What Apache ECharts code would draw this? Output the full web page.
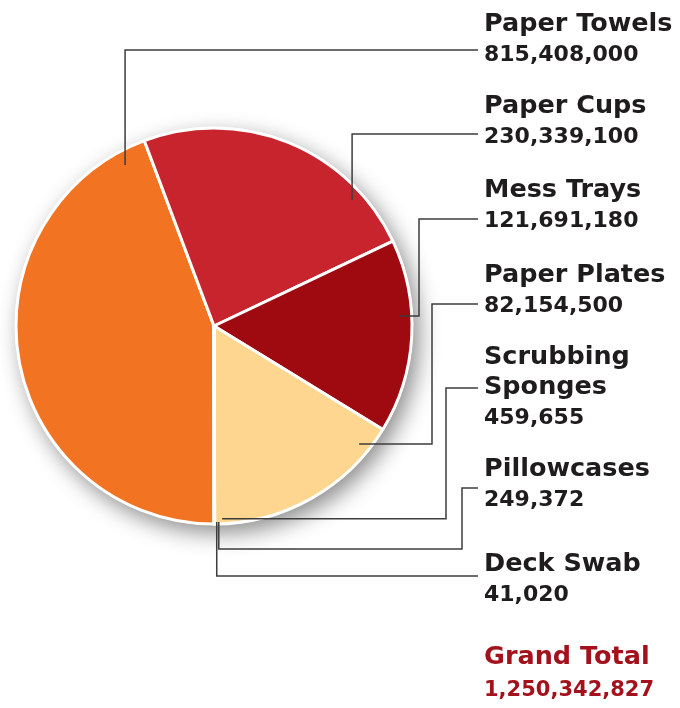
<!DOCTYPE html>
<html>
<head>
<meta charset="utf-8">
<script src="https://cdn.jsdelivr.net/npm/echarts@6/dist/echarts.min.js"></script>
<style>html,body{margin:0;background:#fff}#chart{width:680px;height:708px}</style>
</head>
<body>
<div id="chart"></div>
<script>
const categories = ['Paper Towels', 'Paper Cups', 'Mess Trays', 'Paper Plates', 'Scrubbing\nSponges', 'Pillowcases', 'Deck Swab'];
const amounts = [815408000, 230339100, 121691180, 82154500, 459655, 249372, 41020];
// slice sizes in degrees as drawn in the picture (it is not to scale)
const sliceDegrees = [159.4, 85.2, 56.9, 58.3, 0.1, 0.05, 0.05];
const grandTotal = 1250342827;
const colors = ['#F27322', '#C8242E', '#9F0A10', '#FED68F', '#FED68F', '#FED68F', '#FED68F'];

const cx = 214, cy = 326, R = 198;
const LX = 478;
// label layout
const labelTop = [9, 91, 175, 260, 342, 454, 549];
const lineY = [50, 134, 219, 304, 388, 488, 576];
const elbowX = [0, 0, 419, 432, 446, 462, 0];
const anchorDeg = [331.1, 47.6, 86.9, 129.1, 177.6, 178.6, 179.2];
const anchorR = [184, 187, 186, 187, 193, 196, 196];

function polar(deg, r) {
  const a = deg * Math.PI / 180;
  return [cx + r * Math.sin(a), cy - r * Math.cos(a)];
}

function leaderPoints(i) {
  const p = polar(anchorDeg[i], anchorR[i]);
  if (i === 0 || i === 1) return [p, [p[0], lineY[i]], [LX, lineY[i]]];
  if (i === 5) return [p, [p[0], 549], [elbowX[i], 549], [elbowX[i], lineY[i]], [LX, lineY[i]]];
  if (i === 6) return [p, [p[0], lineY[i]], [LX, lineY[i]]];
  return [p, [elbowX[i], p[1]], [elbowX[i], lineY[i]], [LX, lineY[i]]];
}

const chart = echarts.init(document.getElementById('chart'));
const fontFamily = '"DejaVu Sans", sans-serif';

const pieData = categories.map(function (name, i) {
  return { name: name, value: sliceDegrees[i], itemStyle: { color: colors[i] } };
});

chart.setOption({
  backgroundColor: '#fff',
  animation: false,
  title: {
    text: 'Grand Total',
    subtext: grandTotal.toLocaleString('en-US'),
    left: 484,
    top: 642,
    padding: 0,
    itemGap: 2,
    textStyle: { color: '#A3121C', fontSize: 25.5, fontWeight: 'bold', fontFamily: fontFamily, lineHeight: 30 },
    subtextStyle: { color: '#A3121C', fontSize: 21, fontWeight: 'bold', fontFamily: fontFamily, lineHeight: 34 }
  },
  series: [
    {
      // shadow disc under the pie
      type: 'pie',
      silent: true,
      z: 1,
      center: [cx, cy],
      radius: R + 1,
      label: { show: false },
      labelLine: { show: false },
      itemStyle: {
        color: '#fff',
        shadowBlur: 22,
        shadowOffsetX: 6,
        shadowOffsetY: 8,
        shadowColor: 'rgba(0,0,0,0.45)'
      },
      data: [1]
    },
    {
      type: 'pie',
      z: 2,
      center: [cx, cy],
      radius: R,
      startAngle: -90,
      clockwise: true,
      emphasis: { disabled: true },
      itemStyle: { borderColor: '#fff', borderWidth: 3 },
      label: { show: false },
      labelLine: { show: false },
      data: pieData
    },
    {
      // same slices, see-through, only to carry the labels above the pie
      type: 'pie',
      z: 3,
      silent: true,
      center: [cx, cy],
      radius: R,
      startAngle: -90,
      clockwise: true,
      avoidLabelOverlap: false,
      itemStyle: { color: 'rgba(0,0,0,0)', borderWidth: 0 },
      label: {
        show: true,
        position: 'outside',
        formatter: function (p) {
          const lines = p.name.split('\n').map(function (s) { return '{n|' + s + '}'; });
          return lines.join('\n') + '\n{v|' + amounts[p.dataIndex].toLocaleString('en-US') + '}';
        },
        rich: {
          n: { fontSize: 25.5, fontWeight: 'bold', color: '#1f1c1d', fontFamily: fontFamily, lineHeight: 30 },
          v: { fontSize: 22, fontWeight: 'bold', color: '#1f1c1d', fontFamily: fontFamily, lineHeight: 32 }
        }
      },
      labelLine: {
        show: true,
        lineStyle: { color: '#3d3d3d', width: 1.5 }
      },
      labelLayout: function (params) {
        const i = params.dataIndex;
        return {
          x: 484,
          y: labelTop[i],
          align: 'left',
          verticalAlign: 'top',
          labelLinePoints: leaderPoints(i)
        };
      },
      data: categories.map(function (name, i) {
        return { name: name, value: sliceDegrees[i] };
      })
    }
  ]
});
</script>
</body>
</html>
